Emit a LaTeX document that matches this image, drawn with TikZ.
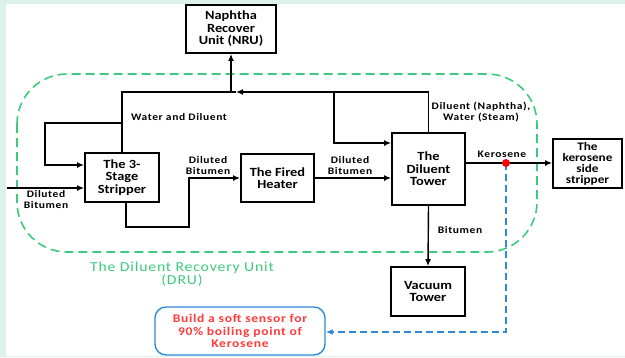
\documentclass[tikz,border=0pt]{standalone}
\usepackage{fontspec}
\setmainfont{Carlito}[FakeStretch=1.15]
\newfontfamily\labelfont{Carlito}[FakeStretch=1.15,LetterSpace=6]
\usetikzlibrary{arrows.meta,calc}
\definecolor{mint}{HTML}{DDF2EA}
\definecolor{drugreen}{HTML}{3CCB7C}
\definecolor{sensorblue}{HTML}{2F88D8}
\definecolor{sensorred}{HTML}{FF3B3B}
\begin{document}
\begin{tikzpicture}[x=1pt,y=-1pt,
  unitbox/.style={draw=black,line width=1.8pt,fill=white,align=center,inner sep=1pt,
    font=\bfseries\fontsize{12.5}{12.5}\selectfont},
  flow/.style={draw=black,line width=1.4pt},
  arr/.style={flow,-{Latex[length=7pt,width=6pt]}},
  flowlabel/.style={align=center,font=\labelfont\bfseries\fontsize{10}{11}\selectfont,inner sep=0pt},
  probe/.style={draw=sensorblue,line width=1.4pt,dash pattern=on 7pt off 4pt,
    -{Latex[length=7pt,width=6pt]}},
  region/.style={draw=drugreen,line width=1.6pt,dash pattern=on 9pt off 5pt,rounded corners=50pt}]
% page frame
\fill[mint] (0,0) rectangle (625,357);
\fill[white] (6,4) rectangle (625,356);
\useasboundingbox (0,0) rectangle (625,357);

% DRU boundary
\draw[region] (17,74) rectangle (537,252);
\node[text=drugreen,align=center,font=\labelfont\fontsize{13.7}{13.5}\selectfont] (drulbl) at (182,274)
  {The Diluent Recovery Unit\\(DRU)};

% process units
\node[unitbox,minimum width=90pt,minimum height=48pt] (nru) at (231,29) {Naphtha\\Recover\\Unit (NRU)};
\node[unitbox,minimum width=74pt,minimum height=49pt] (strip) at (122,177.5) {The 3-\\Stage\\Stripper};
\node[unitbox,minimum width=73pt,minimum height=48pt] (heat) at (277.5,178) {The Fired\\Heater};
\node[unitbox,minimum width=73pt,minimum height=72pt] (tower) at (428.5,169) {The\\Diluent\\Tower};
\node[unitbox,minimum width=69pt,minimum height=49pt,font=\bfseries\fontsize{11.5}{11}\selectfont] (kero) at (587.5,163.5)
  {The\\kerosene\\side\\stripper};
\node[unitbox,minimum width=74pt,minimum height=49pt] (vac) at (428,291.5) {Vacuum\\Tower};
\node[draw=sensorblue,line width=1.4pt,rounded corners=11pt,fill=white,minimum width=170pt,minimum height=48pt,
  align=center,text=sensorred,font=\labelfont\bfseries\fontsize{11.8}{12.5}\selectfont] (sensor) at (240,331)
  {Build a soft sensor for\\90\% boiling point of\\Kerosene};

% routing points
\coordinate (top) at (236,92);
\coordinate (junc) at (231,92);
\coordinate (rec1) at (334,92);
\coordinate (rec2) at (334,143);
\coordinate (wl1) at (122,123);
\coordinate (wl2) at (45,123);
\coordinate (wl3) at (45,165);
\coordinate (feed) at (7,188);
\coordinate (sb1) at (126,227);
\coordinate (sb2) at (189,227);
\coordinate (sb3) at (189,178);
\coordinate (kd) at (506,163);
\coordinate (pb) at (506,332);

% overhead vapour line and branches
\draw[arr] (tower.north) |- (top);
\draw[flow] (top) -| (strip.north);
\draw[arr] (junc) -- (nru.south);
\draw[arr] (rec1) -- (rec2) -- (rec2 -| tower.west);
\draw[arr] (wl1) -- (wl2) -- (wl3) -- (wl3 -| strip.west);

% bitumen train
\draw[arr] (feed) -- (feed -| strip.west);
\draw[arr] (sb1 |- strip.south) -- (sb1) -- (sb2) -- (sb3) -- (sb3 -| heat.west);
\draw[arr] (heat.east) -- (heat.east -| tower.west);
\draw[arr] (tower.south) -- (vac.north);
\draw[arr] (kd -| tower.east) -- (kd -| kero.west);

% soft sensor tap
\draw[probe] (kd) -- (pb) -- (pb -| sensor.east);
\fill[red] (kd) circle (4pt);

% stream labels
\node[flowlabel] (lwd) at (179,117) {Water and Diluent};
\node[flowlabel] (lnw) at (481,112.5) {Diluent (Naphtha),\\Water (Steam)};
\node[flowlabel] (lfeed) at (46,200) {Diluted\\Bitumen};
\node[flowlabel] (lsh) at (208,166) {Diluted\\Bitumen};
\node[flowlabel] (lht) at (350,166) {Diluted\\Bitumen};
\node[flowlabel] (lker) at (502,154) {Kerosene};
\node[flowlabel] (lbit) at (460,230) {Bitumen};
\end{tikzpicture}
\end{document}
